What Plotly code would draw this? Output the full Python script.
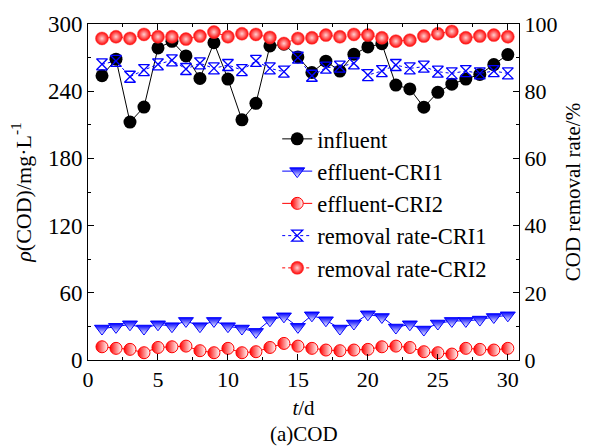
import plotly.graph_objects as go

days = list(range(1, 31))
influent = [253.8, 268.6, 212.4, 225.8, 278.6, 284.5, 271.5, 251.4, 283.3, 250.8,
            214.4, 229.2, 280.4, 282.0, 270.6, 256.7, 266.8, 258.0, 273.0, 279.5,
            282.4, 245.5, 242.0, 225.7, 239.0, 246.3, 250.8, 255.0, 263.8, 272.7]
effluent_cri1 = [28.1, 29.6, 31.9, 28.1, 31.9, 30.2, 34.9, 30.2, 34.9, 30.2,
                 28.1, 25.1, 35.5, 39.0, 29.6, 39.9, 35.5, 28.1, 32.6, 40.8,
                 38.4, 29.0, 31.9, 27.2, 32.6, 34.9, 34.9, 36.1, 38.4, 39.9]
effluent_cri2 = [11.8, 10.4, 9.5, 6.5, 11.2, 11.8, 12.4, 8.3, 6.5, 10.4,
                 6.5, 7.4, 11.2, 14.8, 12.4, 10.4, 8.9, 8.3, 8.9, 9.5,
                 11.8, 12.4, 11.2, 7.4, 6.5, 5.3, 10.4, 9.5, 8.9, 10.4]
removal_cri1 = [88.0, 89.0, 84.3, 86.3, 88.0, 89.2, 86.6, 88.3, 86.8, 87.8,
                86.3, 89.0, 86.8, 85.8, 90.0, 84.6, 87.0, 87.3, 88.3, 84.8,
                86.0, 87.8, 86.8, 87.3, 85.8, 85.3, 86.0, 85.3, 86.0, 85.3]
removal_cri2 = [95.7, 96.2, 95.7, 96.9, 96.2, 96.2, 95.5, 96.4, 97.6, 96.2,
                97.1, 96.9, 96.0, 94.2, 95.7, 95.9, 96.7, 96.2, 96.9, 96.7,
                95.9, 94.9, 95.2, 96.4, 97.1, 97.8, 95.9, 96.4, 96.7, 96.2]

x_ticks = [0, 5, 10, 15, 20, 25, 30]
y_left_ticks = [0, 60, 120, 180, 240, 300]
y_right_ticks = [0, 20, 40, 60, 80, 100]

FONT = "Liberation Serif, Times New Roman, serif"
BLUE = "#0000ff"
RED = "#ff0000"

fig = go.Figure()

fig.add_trace(go.Scatter(
    x=days, y=influent, name="influent", mode="lines+markers",
    line=dict(color="black", width=1),
    marker=dict(symbol="circle", size=13, color="black"),
    legendgroup="a"))
fig.add_trace(go.Scatter(
    x=days, y=effluent_cri1, name="effluent-CRI1", mode="lines+markers",
    line=dict(color=BLUE, width=1),
    marker=dict(symbol="triangle-down", size=13, color=BLUE,
                line=dict(color=BLUE, width=1),
                gradient=dict(type="vertical", color="white")),
    legendgroup="b"))
fig.add_trace(go.Scatter(
    x=days, y=effluent_cri2, name="effluent-CRI2", mode="lines+markers",
    line=dict(color=RED, width=1),
    marker=dict(symbol="circle", size=12, color=RED,
                line=dict(color=RED, width=1),
                gradient=dict(type="horizontal", color="white")),
    legendgroup="c"))
fig.add_trace(go.Scatter(
    x=days, y=removal_cri1, name="removal rate-CRI1", mode="lines+markers",
    yaxis="y2",
    line=dict(color=BLUE, width=1, dash="dot"),
    marker=dict(symbol="hourglass-open", size=11, color=BLUE,
                line=dict(color=BLUE, width=1.3)),
    legendgroup="d"))
fig.add_trace(go.Scatter(
    x=days, y=removal_cri2, name="removal rate-CRI2", mode="lines+markers",
    yaxis="y2",
    line=dict(color=RED, width=1, dash="dot"),
    marker=dict(symbol="circle", size=13, color=RED,
                line=dict(color="#ff4040", width=0.5),
                gradient=dict(type="radial", color="#ffd0d0")),
    legendgroup="e"))

axis_common = dict(showline=True, linecolor="black", linewidth=1,
                   ticks="inside", ticklen=6, tickcolor="black",
                   showgrid=False, zeroline=False)

fig.update_layout(
    width=592, height=446,
    margin=dict(l=88, r=66, t=22, b=86),
    paper_bgcolor="white", plot_bgcolor="white",
    font=dict(family=FONT, color="black"),
    xaxis=dict(range=[0, 30.8], tickvals=x_ticks, mirror="ticks",
               tickfont=dict(family=FONT, size=22, color="black"),
               minor=dict(ticks="inside", ticklen=3, dtick=2.5, tick0=0, tickcolor="black"),
               title=dict(text="<i>t</i>/d", font=dict(family=FONT, size=21), standoff=8),
               **axis_common),
    yaxis=dict(range=[0, 300], tickvals=y_left_ticks,
               tickfont=dict(family=FONT, size=23, color="black"),
               minor=dict(ticks="inside", ticklen=3, dtick=30, tick0=0, tickcolor="black"),
               title=dict(text="<i>ρ</i>(COD)/mg·L<sup>-1</sup>", font=dict(family=FONT, size=22), standoff=10),
               **axis_common),
    yaxis2=dict(range=[0, 100], tickvals=y_right_ticks, overlaying="y", side="right",
                tickfont=dict(family=FONT, size=22, color="black"),
                minor=dict(ticks="inside", ticklen=3, dtick=10, tick0=0, tickcolor="black"),
                title=dict(text="COD removal rate/%", font=dict(family=FONT, size=21), standoff=8),
                **axis_common),
    legend=dict(x=0.439, y=0.721, xanchor="left", yanchor="top",
                bgcolor="rgba(0,0,0,0)", borderwidth=0,
                font=dict(family=FONT, size=22.5, color="black"),
                traceorder="grouped", tracegroupgap=0),
    annotations=[dict(text="(a)COD", x=0.5, y=-0.219, xref="paper", yref="paper",
                      xanchor="center", yanchor="middle", showarrow=False,
                      font=dict(family=FONT, size=21, color="black"))],
)

fig.write_html("out.html")
